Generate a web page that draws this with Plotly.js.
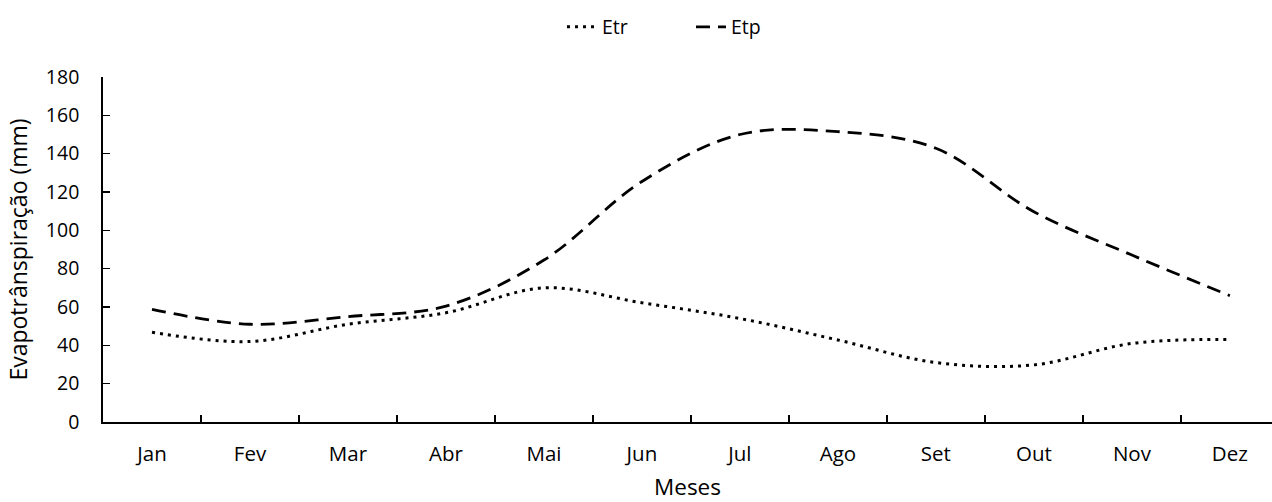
<!DOCTYPE html>
<html>
<head>
<meta charset="utf-8">
<script src="https://cdn.plot.ly/plotly-3.0.1.min.js"></script>
<style>html,body{margin:0;padding:0;background:#fff;}#chart{width:1272px;height:502px;}</style>
</head>
<body>
<div id="chart"></div>
<script>
const months = ["Jan","Fev","Mar","Abr","Mai","Jun","Jul","Ago","Set","Out","Nov","Dez"];
const etr = [46.8, 42.0, 51.0, 57.0, 70.0, 62.2, 54.0, 42.8, 31.0, 29.8, 41.0, 43.1];
const etp = [58.8, 51.0, 55.0, 60.5, 84.5, 125.5, 150.0, 151.5, 142.8, 109.7, 87.1, 65.9];
const yTicks = [0,20,40,60,80,100,120,140,160,180];

const font = {family: "Open Sans, Noto Sans, sans-serif", color: "#000"};

const traces = [
  {x: months, y: etr, name: "Etr", type: "scatter", mode: "lines",
   line: {color: "#000", width: 3, dash: "3px,5px", shape: "spline", smoothing: 1}},
  {x: months, y: etp, name: "Etp", type: "scatter", mode: "lines",
   line: {color: "#000", width: 2.8, dash: "14px,8px", shape: "spline", smoothing: 1}}
];

const layout = {
  width: 1272, height: 502,
  margin: {l: 103, r: 0, t: 77, b: 80},
  paper_bgcolor: "#fff", plot_bgcolor: "#fff",
  font: Object.assign({size: 20}, font),
  showlegend: true,
  legend: {orientation: "h", xref: "container", yref: "container",
           x: 0.4418, xanchor: "left", y: 0.946, yanchor: "middle",
           font: Object.assign({size: 19.5}, font), entrywidth: 84, entrywidthmode: "pixels",
           tracegroupgap: 0},
  xaxis: {
    type: "category", categoryorder: "array", categoryarray: months,
    range: [-0.5, 11.43], tickson: "boundaries",
    ticks: "inside", ticklen: 7, tickwidth: 1.5, tickcolor: "#000",
    showline: true, linecolor: "#000", linewidth: 1.8, showgrid: false, zeroline: false,
    ticklabelstandoff: 13,
    tickfont: Object.assign({size: 20.5}, font),
    title: {text: "Meses", font: Object.assign({size: 22.5}, font), standoff: 21}
  },
  yaxis: {
    range: [0, 180], tickvals: yTicks, ticktext: yTicks.map(String),
    ticks: "inside", ticklen: 7, tickwidth: 1.5, tickcolor: "#000",
    showline: true, linecolor: "#000", linewidth: 1.8, showgrid: false, zeroline: false,
    ticklabelstandoff: 18,
    tickfont: Object.assign({size: 19.5}, font),
    title: {text: "Evapotrânspiração (mm)", font: Object.assign({size: 23}, font), standoff: 12}
  }
};

Plotly.newPlot("chart", traces, layout, {displayModeBar: false, staticPlot: true});
</script>
</body>
</html>
